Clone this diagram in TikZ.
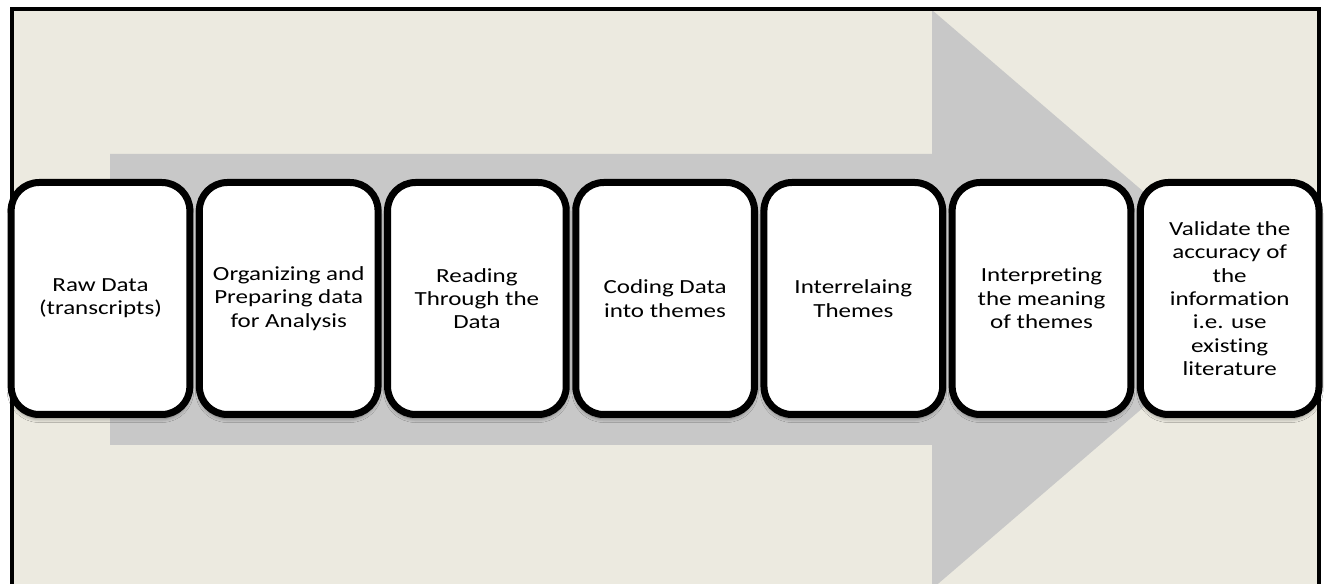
\documentclass[tikz,border=0pt]{standalone}
\usepackage{fontspec}
\setmainfont{Carlito}[FakeStretch=1.25, Ligatures=NoCommon]
\usetikzlibrary{shadows.blur}
\definecolor{paper}{RGB}{236,234,224}
\definecolor{flowgray}{RGB}{200,200,200}
\tikzset{
  stepbox/.style={draw=black, fill=white, line width=5.25pt,
    rounded corners=21pt, minimum width=134pt, minimum height=174pt,
    inner sep=0pt, align=center,
    font=\fontsize{15}{17.5}\selectfont,
    blur shadow={shadow xshift=0pt, shadow yshift=-3pt, shadow blur steps=6,
      shadow opacity=45, shadow blur radius=3pt}},
}
\begin{document}
\begin{tikzpicture}[x=0.75pt, y=-0.75pt]
  \useasboundingbox (0,0) rectangle (1325,584);
  % page background with the framed panel
  \fill[white] (0,0) rectangle (1325,584);
  \fill[paper] (12,9.5) rectangle (1318.5,600);
  % large grey process arrow behind the steps
  \begin{scope}
    \clip (12,9.5) rectangle (1318.5,584);
    \fill[flowgray] (110,154) -- (932,154) -- (932,10) -- (1269,299.5)
      -- (932,589) -- (932,445) -- (110,445) -- cycle;
  \end{scope}
  \draw[line width=3pt] (12,600) -- (12,9.5) -- (1318.5,9.5) -- (1318.5,600);
  % process steps
  \node[stepbox] (s1) at (100.5,298.5) {Raw Data\\(transcripts)};
  \node[stepbox] (s2) at (288.7,298.5) {Organizing and\\Preparing data\\for Analysis};
  \node[stepbox] (s3) at (476.9,298.5) {Reading\\Through the\\Data};
  \node[stepbox] (s4) at (665.1,298.5) {Coding Data\\into themes};
  \node[stepbox] (s5) at (853.3,298.5) {Interrelaing\\Themes};
  \node[stepbox] (s6) at (1041.5,298.5) {Interpreting\\the meaning\\of themes};
  \node[stepbox] (s7) at (1229.7,298.5) {Validate the\\accuracy of\\the\\information\\i.e. use\\existing\\literature};
\end{tikzpicture}
\end{document}
